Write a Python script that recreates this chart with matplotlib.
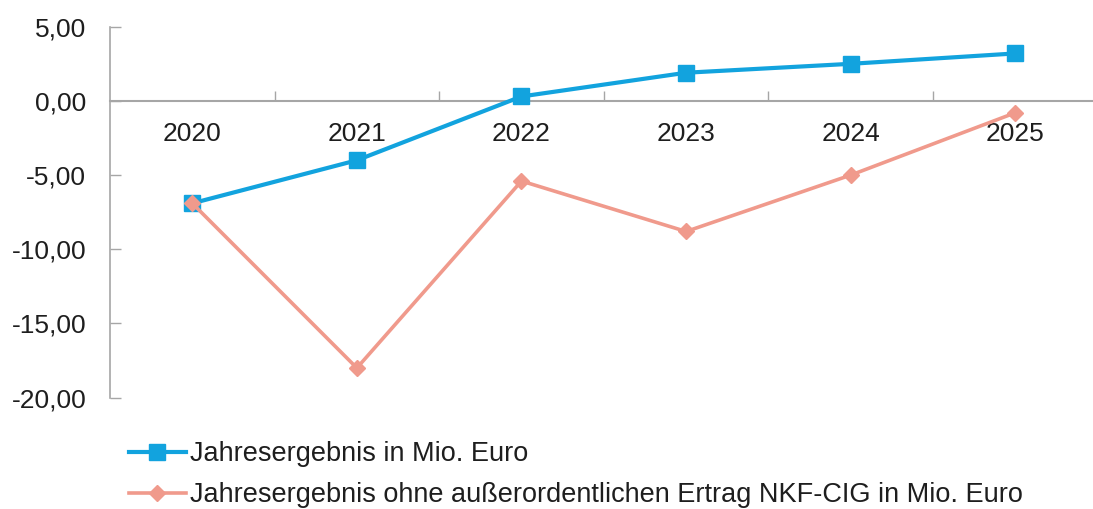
import matplotlib.pyplot as plt
import numpy as np
from matplotlib.ticker import FuncFormatter

plt.rcParams['font.family'] = ['Liberation Sans', 'DejaVu Sans']

# Data
years = ['2020', '2021', '2022', '2023', '2024', '2025']
ergebnis = [-6.9, -4.0, 0.3, 1.9, 2.5, 3.2]
ohne_ertrag = [-6.9, -18.0, -5.4, -8.8, -5.0, -0.8]
labels = ['Jahresergebnis in Mio. Euro',
          'Jahresergebnis ohne außerordentlichen Ertrag NKF-CIG in Mio. Euro']

BLUE = '#12a3de'
SALMON = '#f09a8c'
AXIS = '#a6a6a6'
TEXT = '#1e1e1e'

fig = plt.figure(figsize=(10.93, 5.09), dpi=100)
ax = fig.add_axes([0.1006, 0.2187, 0.8994, 0.7288])

x = np.arange(len(years))
l1, = ax.plot(x, ergebnis, color=BLUE, lw=3.0, marker='s', ms=11,
              zorder=3, label=labels[0])
l2, = ax.plot(x, ohne_ertrag, color=SALMON, lw=2.6, marker='D', ms=8.5,
              zorder=4, label=labels[1])

ax.set_ylim(-20, 5)
ax.set_xlim(-0.5, 5.472)
ax.set_yticks(np.arange(-20, 5.1, 5))
ax.yaxis.set_major_formatter(FuncFormatter(lambda v, p: f'{v:.2f}'.replace('.', ',')))
ax.tick_params(axis='y', direction='in', length=8, width=1, color=AXIS,
               labelsize=19, labelcolor=TEXT, pad=17)

# x axis sits at zero, ticks between categories
for s in ['top', 'right']:
    ax.spines[s].set_visible(False)
ax.spines['left'].set_color(AXIS)
ax.spines['bottom'].set_color(AXIS)
ax.spines['bottom'].set_position(('data', 0))
ax.spines['left'].set_linewidth(1.2)
ax.spines['bottom'].set_linewidth(1.5)
ax.set_xticks(np.arange(0.5, 5.5, 1))
ax.set_xticklabels([])
ax.tick_params(axis='x', direction='in', length=7, width=1, color=AXIS)

for i, yr in enumerate(years):
    ax.annotate(yr, (i, 0), xytext=(0, -33), textcoords='offset pixels',
                ha='center', va='center', fontsize=19, color=TEXT)

fig.legend(handles=[l1, l2], loc='upper left', bbox_to_anchor=(0.108, 0.154),
           frameon=False, fontsize=19.5, handlelength=2.1, handletextpad=0.15,
           labelspacing=0.55, borderaxespad=0, labelcolor=TEXT)

fig.savefig('out.png', dpi=100)
